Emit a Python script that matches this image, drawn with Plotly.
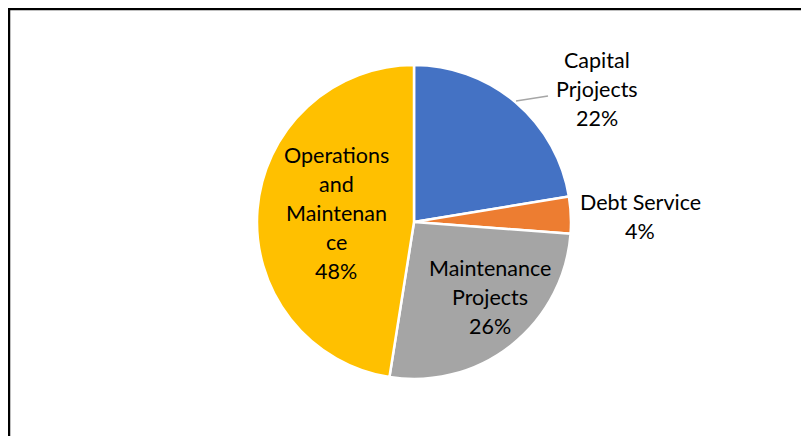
import plotly.graph_objects as go

categories = ["Capital Prjojects", "Debt Service", "Maintenance Projects", "Operations and Maintenance"]
values = [22.4, 3.8, 26.3, 47.5]
colors = ["#4472C4", "#ED7D31", "#A5A5A5", "#FFC000"]

# label lines as shown in chart (wrapped text)
label_lines = [
    ["Capital", "Prjojects", "22%"],
    ["Debt Service", "4%"],
    ["Maintenance", "Projects", "26%"],
    ["Operations", "and", "Maintenan", "ce", "48%"],
]

W, H = 809, 436
OFF = 8  # page body margin offset
# label anchor (center x, first line y) in page pixels
label_pos = [(597, 60), (640, 202), (490, 268), (336, 155)]
cx, cy, r = 414, 222, 157

def px(x):
    return (x - OFF) / W

def py(y):
    return 1 - (y - OFF) / H

fig = go.Figure(go.Pie(
    labels=categories,
    values=values,
    sort=False,
    direction="clockwise",
    rotation=0,
    marker=dict(colors=colors, line=dict(color="white", width=2.5)),
    textinfo="none",
    hoverinfo="label+percent",
    domain=dict(x=[px(cx - r), px(cx + r)], y=[py(cy + r), py(cy - r)]),
    showlegend=False,
))

line_h = 29
for lines, (x, y0) in zip(label_lines, label_pos):
    for i, t in enumerate(lines):
        fig.add_annotation(
            x=px(x), y=py(y0 + i * line_h), xref="paper", yref="paper",
            text=t, showarrow=False, xanchor="center", yanchor="middle",
            font=dict(family="Lato, Noto Sans, sans-serif", size=21.5, color="black"),
        )

# leader line for Capital Prjojects
fig.add_shape(type="line", xref="paper", yref="paper",
              x0=px(516), y0=py(101), x1=px(548), y1=py(96),
              line=dict(color="#A6A6A6", width=1.5))
# chart frame (top and left visible)
fig.add_shape(type="line", xref="paper", yref="paper",
              x0=px(8), y0=py(9), x1=1, y1=py(9),
              line=dict(color="black", width=2.5))
fig.add_shape(type="line", xref="paper", yref="paper",
              x0=px(9), y0=py(8), x1=px(9), y1=0,
              line=dict(color="black", width=2.5))

fig.update_layout(
    width=W, height=H,
    margin=dict(l=0, r=0, t=0, b=0),
    paper_bgcolor="white", plot_bgcolor="white",
)

fig.write_html("out.html")
